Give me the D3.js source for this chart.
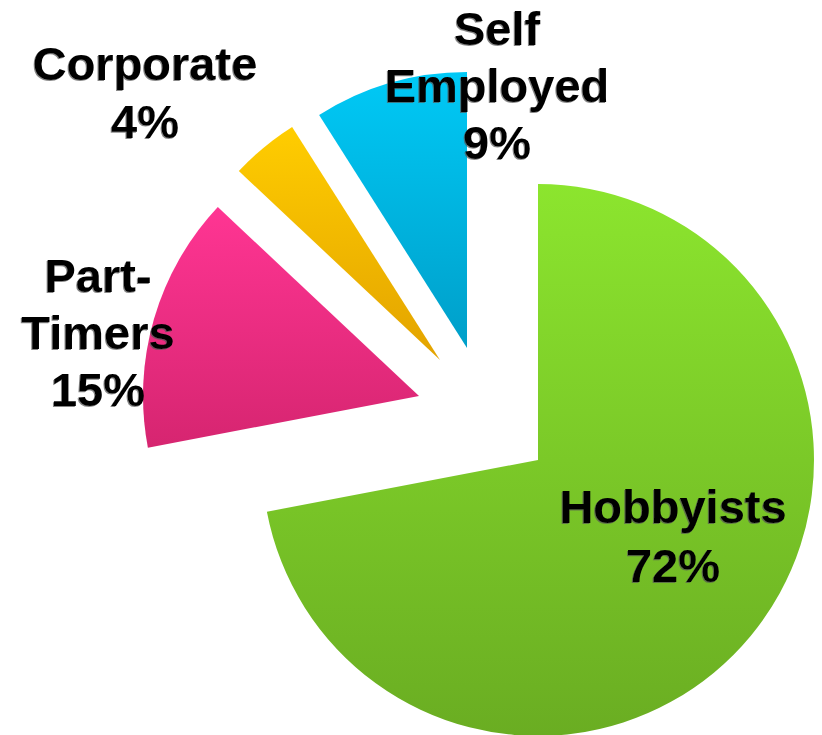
<!DOCTYPE html>
<html>
<head>
<meta charset="utf-8">
<script src="https://cdn.jsdelivr.net/npm/d3@7"></script>
<style>
  html, body { margin: 0; padding: 0; background: #ffffff; }
  svg { display: block; }
</style>
</head>
<body>
<script>
// ---- Data ----
const categories = ["Hobbyists", "Part-Timers", "Corporate", "Self Employed"];
const values = [72, 15, 4, 9];
const labelLines = [["Hobbyists", "72%"], ["Part-", "Timers", "15%"], ["Corporate", "4%"], ["Self", "Employed", "9%"]];

// ---- Styles / layout ----
const colorsTop = ["#8ce52e", "#ff3593", "#ffcd00", "#00c9f6"];
const colorsBottom = ["#6aad22", "#d62570", "#e3a300", "#009fc9"];
const W = 822, H = 735;
const center = [466, 388];
const radius = 276;
// per-slice explode shift of each wedge from the common centre
const explode = [[72, 72], [-47, 8], [-26, -28], [1, -40]];
// label anchor (centre x, first baseline y) and line spacing
const labelPos = [[673, 523], [98, 292], [145, 80], [497, 45]];
const lineGap = [59, 57, 58, 57];

const svg = d3.select("body").append("svg").attr("width", W).attr("height", H);
const defs = svg.append("defs");

categories.forEach((c, i) => {
  const g = defs.append("linearGradient").attr("id", "grad" + i)
    .attr("x1", 0).attr("y1", 0).attr("x2", 0).attr("y2", 1);
  g.append("stop").attr("offset", "0%").attr("stop-color", colorsTop[i]);
  g.append("stop").attr("offset", "100%").attr("stop-color", colorsBottom[i]);
});

const f = defs.append("filter").attr("id", "shadow")
  .attr("x", "-10%").attr("y", "-10%").attr("width", "120%").attr("height", "130%");
f.append("feDropShadow").attr("dx", -1).attr("dy", 1).attr("stdDeviation", 0.6)
  .attr("flood-color", "#555").attr("flood-opacity", 0.7);

const pie = d3.pie().sort(null).startAngle(0).endAngle(2 * Math.PI);
const arcs = pie(values);
const arc = d3.arc().innerRadius(0).outerRadius(radius);

const gPie = svg.append("g").attr("transform", `translate(${center[0]},${center[1]})`);
gPie.selectAll("path.slice").data(arcs).join("path")
  .attr("class", "slice")
  .attr("transform", (d, i) => `translate(${explode[i][0]},${explode[i][1]})`)
  .attr("d", arc)
  .attr("fill", (d, i) => `url(#grad${i})`);

const gLab = svg.append("g").attr("filter", "url(#shadow)");
labelLines.forEach((lines, i) => {
  const t = gLab.append("text")
    .attr("text-anchor", "middle")
    .attr("font-family", "'Liberation Sans', Arial, sans-serif")
    .attr("font-weight", "bold")
    .attr("font-size", 47)
    .attr("fill", "#000");
  lines.forEach((ln, j) => {
    t.append("tspan").attr("x", labelPos[i][0]).attr("y", labelPos[i][1] + j * lineGap[i]).text(ln);
  });
});
</script>
</body>
</html>
